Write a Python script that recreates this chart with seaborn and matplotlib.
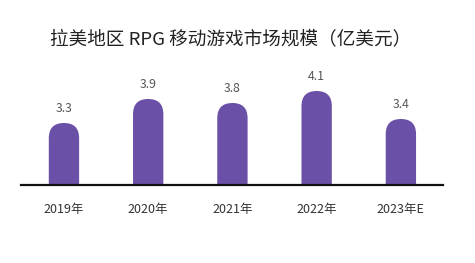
import matplotlib
matplotlib.use("Agg")
import matplotlib.pyplot as plt
import seaborn as sns
import pandas as pd
from matplotlib.patches import FancyBboxPatch

categories = ["2019年", "2020年", "2021年", "2022年", "2023年E"]
values = [3.3, 3.9, 3.8, 4.1, 3.4]
value_labels = ["3.3", "3.9", "3.8", "4.1", "3.4"]
title = "拉美地区 RPG 移动游戏市场规模（亿美元）"

sns.set_theme(style="white")
plt.rcParams['font.family'] = ['Noto Sans CJK SC', 'DejaVu Sans']

W, H = 475, 263
fig = plt.figure(figsize=(W / 100, H / 100), dpi=100)
fig.patch.set_facecolor("white")
ax_left, ax_right, ax_base, ax_top = 21, 443, 185, 30
ax = fig.add_axes([ax_left / W, (H - ax_base) / H, (ax_right - ax_left) / W, (ax_base - ax_top) / H])

df = pd.DataFrame({"year": categories, "value": values})
bar_color = "#6a50a6"
sns.barplot(data=df, x="year", y="value", color=bar_color, width=0.36, ax=ax, saturation=1)

px_per_unit_y = 40.0
ymin = 1.75
ax.set_ylim(ymin, ymin + (ax_base - ax_top) / px_per_unit_y)
ax.set_xlim(-0.51, 4.5)

# replace rectangles with rounded-top pills
x_per_px = (4.5 + 0.51) / (ax_right - ax_left)
y_per_px = 1 / px_per_unit_y
aspect = y_per_px / x_per_px
for p in list(ax.patches):
    x0, y0 = p.get_x(), p.get_y()
    w, h = p.get_width(), p.get_height()
    p.set_visible(False)
    fb = FancyBboxPatch((x0, y0), w, h,
                        boxstyle=f"round,pad=0,rounding_size={w / 2}",
                        mutation_aspect=aspect, facecolor=bar_color,
                        edgecolor="none", clip_on=True)
    ax.add_patch(fb)

for i, (v, lab) in enumerate(zip(values, value_labels)):
    ax.annotate(lab, (i, v), xytext=(0, 10.5), textcoords="offset points",
                ha="center", va="center", fontsize=8.8, color="#555555")

for s in ["top", "left", "right"]:
    ax.spines[s].set_visible(False)
ax.spines["bottom"].set_color("#111111")
ax.spines["bottom"].set_linewidth(1.6)
ax.spines["bottom"].set_zorder(5)
ax.set_yticks([])
ax.set_xlabel("")
ax.set_ylabel("")
ax.tick_params(axis="x", length=0, pad=13, labelsize=9, labelcolor="#333333")

fig.text(50 / W, 1 - 39 / H, title, ha="left", va="center", fontsize=13.4,
         color="#222222", fontweight="medium")

fig.savefig("out.png", dpi=100, facecolor="white")
